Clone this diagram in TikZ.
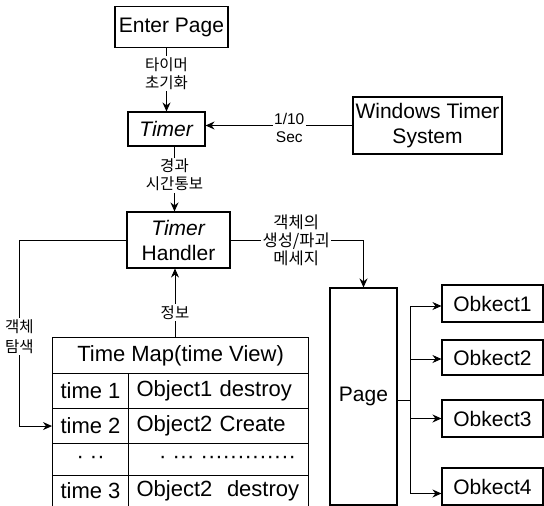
\documentclass[tikz,border=0pt]{standalone}
\usepackage{fontspec}
\setmainfont{Liberation Sans}
\newfontfamily\krfont{Noto Sans CJK KR}
\usetikzlibrary{arrows.meta,calc}
\begin{document}
\begin{tikzpicture}[x=1pt,y=-1pt,
  box/.style={draw, line width=1.1pt, inner sep=0pt, font=\fontsize{21}{25}\selectfont, align=center},
  cellc/.style={draw, line width=1.1pt, inner sep=0pt, anchor=north west, font=\fontsize{22}{26}\selectfont, align=center},
  celll/.style={draw, line width=1.1pt, inner ysep=0pt, inner xsep=8pt, anchor=north west, font=\fontsize{22}{26}\selectfont, align=left, text width=164pt},
  lbl/.style={fill=white, inner sep=1.5pt, font=\krfont\fontsize{15.5}{18}\selectfont, align=center},
  ln/.style={line width=0.9pt},
  arr/.style={line width=0.9pt, -{Stealth[length=9pt,width=8pt]}}]
\useasboundingbox (0,0) rectangle (544,506);

% boxes
\node[box, minimum width=113pt, minimum height=41pt] (enter) at (171.5,27) {Enter Page};
\node[box, minimum width=77pt, minimum height=34pt] (timer) at (166.5,129) {\textit{Timer}};
\node[box, minimum width=149pt, minimum height=57pt] (wts) at (427.5,125.5) {Windows Timer\\System};
\node[box, minimum width=103pt, minimum height=56pt] (handler) at (178.5,240) {\textit{Timer}\\Handler};
\node[box, minimum width=67pt, minimum height=217pt] (page) at (363.5,396.5) {Page};
\node[box, minimum width=101pt, minimum height=37pt] (ob1) at (492.5,303.5) {Obkect1};
\node[box, minimum width=101pt, minimum height=35pt] (ob2) at (492.5,357.5) {Obkect2};
\node[box, minimum width=101pt, minimum height=37pt] (ob3) at (492.5,418.5) {Obkect3};
\node[box, minimum width=101pt, minimum height=37pt] (ob4) at (492.5,486.5) {Obkect4};

% table
\node[cellc, minimum width=256pt, minimum height=36pt] (hdr) at (52,337) {Time Map(time View)};
\node[cellc, minimum width=76pt, minimum height=35pt] (r1a) at (52,373) {time 1};
\node[celll, minimum height=35pt] (r1b) at (128,373) {Object1 destroy};
\node[cellc, minimum width=76pt, minimum height=35pt] (r2a) at (52,408) {time 2};
\node[celll, minimum height=35pt] (r2b) at (128,408) {Object2 Create};
\node[cellc, minimum width=76pt, minimum height=32pt] (r3a) at (52,443) {· ··};
\node[cellc, minimum width=180pt, minimum height=32pt] (r3b) at (128,443) {\hspace*{18pt}· ··· ·············};
\node[cellc, minimum width=76pt, minimum height=30.5pt] (r4a) at (52,475) {time 3};
\node[celll, minimum height=30.5pt] (r4b) at (128,475) {Object2\ \ destroy};

% connectors
\draw[arr] (enter.south -| timer.north) -- (timer.north)
  node[lbl, pos=0.4] {타이머\\초기화};
\draw[arr] (wts.west) -- (wts.west -| timer.east)
  node[lbl, pos=0.43, yshift=-2pt, font=\fontsize{15.5}{18}\selectfont] {1/10\\Sec};
\draw[arr] ([xshift=8pt]timer.south) -- ([xshift=8pt]timer.south |- handler.north)
  node[lbl, pos=0.44] {경과\\시간통보};
\draw[arr] (handler.east) -| (page.north)
  node[lbl, pos=0.247, font=\krfont\fontsize{16.5}{18}\selectfont] {객체의\\생성/파괴\\메세지};
\coordinate (lc) at ($(handler.west)+(-107,0)$);
\draw[arr] (handler.west) -- (lc) |- (r2a.west)
  node[lbl, pos=0.26, font=\krfont\fontsize{15.5}{20}\selectfont] {객체\\탐색};
\draw[arr] ([xshift=-3.5pt]handler.south |- hdr.north) -- ([xshift=-3.5pt]handler.south)
  node[lbl, pos=0.36] {정보};

\coordinate (br) at ($(page.east)+(13,3.5)$);
\draw[ln] (page.east |- br) -- (br);
\draw[arr] (br) |- ([yshift=-2.5pt]ob1.west);
\draw[arr] (br) |- ([yshift=-1.5pt]ob2.west);
\draw[arr] (br) |- (ob3.west);
\draw[arr] (br) |- ([yshift=-7pt]ob4.west);
\end{tikzpicture}
\end{document}
